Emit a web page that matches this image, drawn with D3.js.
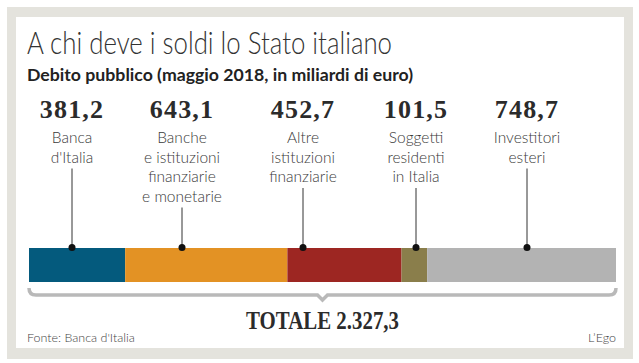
<!DOCTYPE html>
<html>
<head>
<meta charset="utf-8">
<script src="https://cdn.jsdelivr.net/npm/d3@7"></script>
<style>
  body { margin: 0; background: #fff; }
  svg { display: block; }
</style>
</head>
<body>
<div id="chart"></div>
<script>
// data
const categories = [
    ['Banca', "d'Italia"],
    ['Banche', 'e istituzioni', 'finanziarie', 'e monetarie'],
    ['Altre', 'istituzioni', 'finanziarie'],
    ['Soggetti', 'residenti', 'in Italia'],
    ['Investitori', 'esteri']
];
const values = [381.2, 643.1, 452.7, 101.5, 748.7];
const totalLabel = 'TOTALE 2.327,3';

// styles / layout
const palette = ['#045a7d', '#e39224', '#9d2622', '#8a7e4b', '#b3b3b3'];
const anchorX = [72, 182, 303, 416, 527];
const dims = { width: 639, height: 363 };

const fmt = v => d3.format('.1f')(v).replace('.', ',');

const svg = d3.select('#chart')
    .append('svg')
    .attr('width', dims.width)
    .attr('height', dims.height);

// frame
svg.append('rect')
    .attr('x', 7).attr('y', 7)
    .attr('width', 626).attr('height', 352)
    .attr('fill', '#e4e3dd');
svg.append('rect')
    .attr('x', 16).attr('y', 17)
    .attr('width', 608).attr('height', 331)
    .attr('fill', '#fff');

// titles
svg.append('text')
    .attr('x', 27).attr('y', 54)
    .attr('textLength', 365)
    .attr('lengthAdjust', 'spacingAndGlyphs')
    .style('font', '300 31px Lato')
    .attr('fill', '#333')
    .text('A chi deve i soldi lo Stato italiano');

svg.append('text')
    .attr('x', 27).attr('y', 81)
    .attr('textLength', 386)
    .attr('lengthAdjust', 'spacingAndGlyphs')
    .style('font', '700 17.5px Lato')
    .attr('fill', '#222')
    .text('Debito pubblico (maggio 2018, in miliardi di euro)');

// stacked bar
const total = d3.sum(values);
const x = d3.scaleLinear()
    .domain([0, total])
    .range([29, 616]);

const starts = d3.cumsum([0, ...values]);
const segs = values.map((v, i) => ({ v, x0: starts[i], x1: starts[i] + v, i }));

svg.append('g')
    .selectAll('rect')
    .data(segs)
    .enter()
    .append('rect')
    .attr('x', d => x(d.x0))
    .attr('y', 248)
    .attr('width', d => x(d.x1) - x(d.x0))
    .attr('height', 34)
    .attr('fill', d => palette[d.i]);

// labels
const lab = svg.append('g')
    .selectAll('g')
    .data(segs)
    .enter()
    .append('g')
    .attr('transform', d => `translate(${anchorX[d.i]},0)`);

lab.append('text')
    .attr('y', 118)
    .attr('text-anchor', 'middle')
    .style('font', '700 26px "Liberation Serif"')
    .style('letter-spacing', '1.2px')
    .attr('fill', '#2b2b2b')
    .text(d => fmt(d.v));

lab.each(function (d) {
    const g = d3.select(this);
    const lines = categories[d.i];
    g.selectAll('.cat')
        .data(lines)
        .enter()
        .append('text')
        .attr('class', 'cat')
        .attr('y', (t, j) => 143 + j * 19.5)
        .attr('text-anchor', 'middle')
        .style('font', '300 15.5px Lato')
        .attr('fill', '#3a3a3a')
        .text(t => t);
    g.append('line')
        .attr('y1', 143 + (lines.length - 1) * 19.5 + 6)
        .attr('y2', 247)
        .attr('stroke', '#333')
        .attr('stroke-width', 1);
    g.append('circle')
        .attr('cy', 247.5)
        .attr('r', 3.5)
        .attr('fill', '#111');
});

// brace
const bx0 = x(0), bx1 = x(total), bm = (bx0 + bx1) / 2;
svg.append('path')
    .attr('d', `M${bx0},288 Q${bx0},295 ${bx0 + 7},295 L${bm - 5},295 L${bm},300 L${bm + 5},295 L${bx1 - 7},295 Q${bx1},295 ${bx1},288`)
    .attr('fill', 'none')
    .attr('stroke', '#b9b9b9')
    .attr('stroke-width', 3.5);

svg.append('text')
    .attr('x', bm).attr('y', 329)
    .attr('text-anchor', 'middle')
    .attr('textLength', 153)
    .attr('lengthAdjust', 'spacingAndGlyphs')
    .style('font', '700 25px "Liberation Serif"')
    .attr('fill', '#2b2b2b')
    .text(totalLabel);

// footer
svg.append('text')
    .attr('x', 27).attr('y', 342)
    .style('font', '300 12.5px Lato')
    .attr('fill', '#444')
    .text("Fonte: Banca d'Italia");

svg.append('text')
    .attr('x', 616).attr('y', 342)
    .attr('text-anchor', 'end')
    .style('font', '300 12.5px Lato')
    .attr('fill', '#444')
    .text('L’Ego');
</script>
</body>
</html>
